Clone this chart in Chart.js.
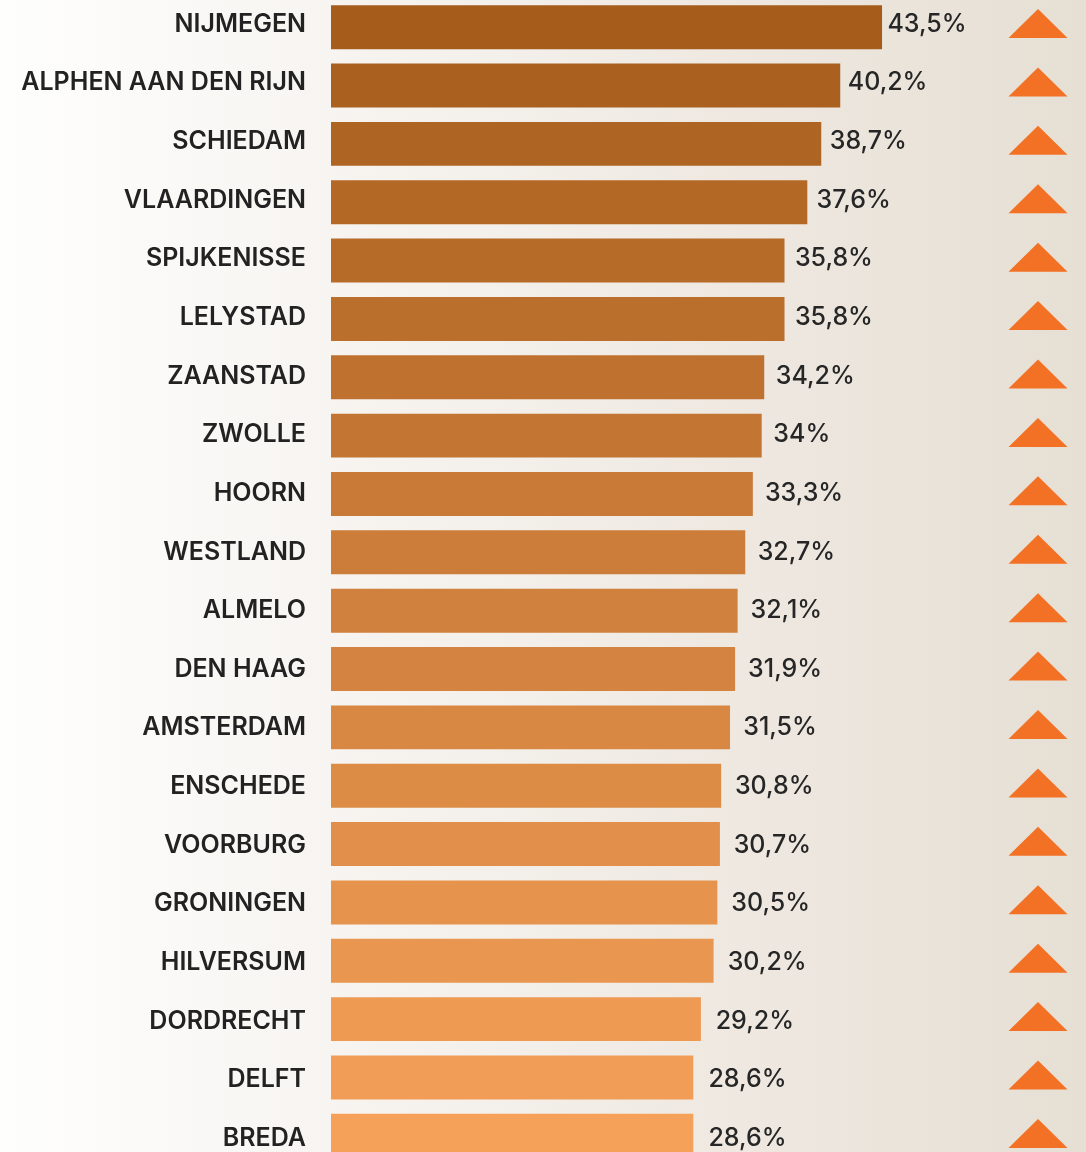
<!DOCTYPE html>
<html>
<head>
<meta charset="utf-8">
<script src="https://cdn.jsdelivr.net/npm/chart.js@4.4.1/dist/chart.umd.min.js"></script>
<style>
  html, body { margin: 0; padding: 0; width: 1086px; height: 1152px; overflow: hidden; }
  body { background: linear-gradient(to right, #fefefd 0%, #f6f3ef 35%, #efe9e2 65%, #e6dfd4 100%); position: relative; }
  #wrap { position: absolute; left: 0; top: -2px; width: 1086px; height: 1167px; }
</style>
</head>
<body>
<div id="wrap"><canvas id="c"></canvas></div>
<script>
const cities = ["NIJMEGEN","ALPHEN AAN DEN RIJN","SCHIEDAM","VLAARDINGEN","SPIJKENISSE","LELYSTAD","ZAANSTAD","ZWOLLE","HOORN","WESTLAND","ALMELO","DEN HAAG","AMSTERDAM","ENSCHEDE","VOORBURG","GRONINGEN","HILVERSUM","DORDRECHT","DELFT","BREDA"];
const shares = [43.5,40.2,38.7,37.6,35.8,35.8,34.2,34.0,33.3,32.7,32.1,31.9,31.5,30.8,30.7,30.5,30.2,29.2,28.6,28.6];
const valueLabels = ["43,5%","40,2%","38,7%","37,6%","35,8%","35,8%","34,2%","34%","33,3%","32,7%","32,1%","31,9%","31,5%","30,8%","30,7%","30,5%","30,2%","29,2%","28,6%","28,6%"];
const trends = ["up","up","up","up","up","up","up","up","up","up","up","up","up","up","up","up","up","up","up","up"];

function mix(a, b, t) {
  const pa = [parseInt(a.slice(1,3),16), parseInt(a.slice(3,5),16), parseInt(a.slice(5,7),16)];
  const pb = [parseInt(b.slice(1,3),16), parseInt(b.slice(3,5),16), parseInt(b.slice(5,7),16)];
  return 'rgb(' + pa.map((v,k)=>Math.round(v+(pb[k]-v)*t)).join(',') + ')';
}
const barColors = cities.map((_, i) => mix('#a65d1c', '#f6a15a', i / (cities.length - 1)));

const FONT = 'Inter, "Open Sans", "Liberation Sans", sans-serif';

const annotate = {
  id: 'annotate',
  afterDatasetsDraw(chart) {
    const ctx = chart.ctx;
    const xs = chart.scales.x, ys = chart.scales.y;
    ctx.save();
    cities.forEach((name, i) => {
      const c = ys.getPixelForValue(i);
      const ty = c + 4.6 + i * 0.29;
      // category label
      ctx.fillStyle = '#222222';
      ctx.font = '600 25px ' + FONT;
      ctx.textAlign = 'right';
      ctx.textBaseline = 'alphabetic';
      ctx.fillText(name, 306, ty);
      // value label
      ctx.font = '500 25px ' + FONT;
      ctx.textAlign = 'left';
      ctx.fillStyle = '#262626';
      const vx = xs.getPixelForValue(shares[i] * 0.948) + 34;
      ctx.fillText(valueLabels[i], vx, ty);
      // trend triangle
      const tc = c - 3.7 + i * 0.07;
      ctx.fillStyle = '#f37124';
      ctx.beginPath();
      if (trends[i] === 'up') {
        ctx.moveTo(1038, tc - 14.5);
        ctx.lineTo(1067.5, tc + 14.5);
        ctx.lineTo(1008.5, tc + 14.5);
      } else {
        ctx.moveTo(1038, tc + 14.5);
        ctx.lineTo(1067.5, tc - 14.5);
        ctx.lineTo(1008.5, tc - 14.5);
      }
      ctx.closePath();
      ctx.fill();
    });
    ctx.restore();
  }
};

new Chart(document.getElementById('c'), {
  type: 'bar',
  data: {
    labels: cities,
    datasets: [{
      data: shares,
      backgroundColor: barColors,
      borderWidth: 0,
      categoryPercentage: 1,
      barPercentage: 0.754
    }]
  },
  options: {
    indexAxis: 'y',
    responsive: true,
    maintainAspectRatio: false,
    animation: false,
    layout: { padding: { left: 331, right: 0, top: 0, bottom: 0 } },
    plugins: { legend: { display: false }, tooltip: { enabled: false } },
    scales: {
      x: { display: false, min: 0, max: 59.6 },
      y: { display: false }
    }
  },
  plugins: [annotate]
});
</script>
</body>
</html>
